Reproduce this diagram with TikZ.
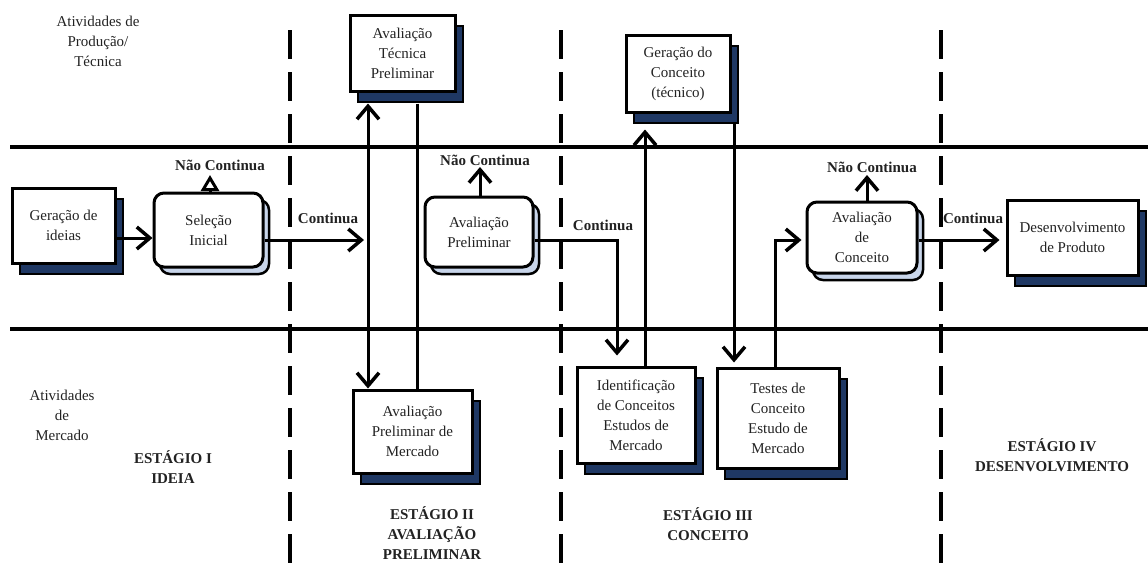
\documentclass[tikz,border=0pt]{standalone}
\usepackage{fontspec}
\setmainfont{Liberation Serif}
\usetikzlibrary{arrows.meta,shadows,calc}
\definecolor{navyshadow}{HTML}{1F3864}
\definecolor{paleshadow}{HTML}{C8D5EA}
\definecolor{ink}{HTML}{222222}
\begin{document}
\begin{tikzpicture}[x=1pt,y=-1pt,
  font=\fontsize{15}{20}\selectfont,
  every node/.style={text=ink, inner sep=0pt},
  taskbox/.style={draw=black, line width=3pt, fill=white, align=center,
    drop shadow={shadow xshift=8pt, shadow yshift=-11pt, fill=navyshadow,
      draw=black, line width=2pt, opacity=1}},
  decisionbox/.style={draw=black, line width=3pt, fill=white, align=center,
    rounded corners=10pt,
    drop shadow={shadow xshift=6pt, shadow yshift=-7pt, fill=paleshadow,
      draw=black, line width=2.5pt, opacity=1}},
  barb/.tip={Straight Barb[length=13pt,width=22pt,line width=3.5pt]},
  flow/.style={line width=3pt, -barb},
  twoway/.style={line width=3pt, barb-barb},
  stopflow/.style={line width=3pt, -{Triangle[open,length=16pt,width=18pt,line width=3pt]}},
  link/.style={line width=3pt},
  lane/.style={line width=4pt},
  stageline/.style={line width=3.5pt, dash pattern=on 29pt off 13pt},
  tag/.style={font=\fontsize{15}{20}\selectfont\bfseries, align=center},
  note/.style={align=center},
]
\useasboundingbox (0,0) rectangle (1148,563);

% swim-lane borders
\draw[lane] (10,147) -- (1148,147);
\draw[lane] (10,329) -- (1148,329);

% stage separators
\draw[stageline] (290,30) -- (290,563);
\draw[stageline] (561,30) -- (561,563);
\draw[stageline] (941,30) -- (941,563);

% lane and stage captions
\node[note] (prodlbl) at (98,41) {Atividades de\\Produção/\\Técnica};
\node[note] (mktlbl) at (62,415) {Atividades\\de\\Mercado};
\node[tag] (stage1) at (173,467) {ESTÁGIO I\\IDEIA};
\node[tag] (stage2) at (432,533) {ESTÁGIO II\\AVALIAÇÃO\\PRELIMINAR};
\node[tag] (stage3) at (708,524) {ESTÁGIO III\\CONCEITO};
\node[tag] (stage4) at (1052,455) {ESTÁGIO IV\\DESENVOLVIMENTO};

% activities and decisions
\node[taskbox, minimum width=103pt, minimum height=75pt] (gen) at (63.5,225.5) {Geração de\\ideias};
\node[decisionbox, minimum width=109pt, minimum height=74pt] (sel) at (208.5,230) {Seleção\\Inicial};
\node[taskbox, minimum width=105pt, minimum height=76pt] (tec) at (402.5,53) {Avaliação\\Técnica\\Preliminar};
\node[taskbox, minimum width=119pt, minimum height=83pt] (mer) at (412.5,431.5) {Avaliação\\Preliminar de\\Mercado};
\node[decisionbox, minimum width=108pt, minimum height=70pt] (ap) at (479,232) {Avaliação\\Preliminar};
\node[taskbox, minimum width=104pt, minimum height=77pt] (gc) at (678,73.5) {Geração do\\Conceito\\(técnico)};
\node[taskbox, minimum width=118pt, minimum height=96pt] (ic) at (636,415) {Identificação\\de Conceitos\\Estudos de\\Mercado};
\node[taskbox, minimum width=122pt, minimum height=100pt] (tc) at (778,418) {Testes de\\Conceito\\Estudo de\\Mercado};
\node[decisionbox, minimum width=110pt, minimum height=71pt] (ac) at (862,237.5) {Avaliação\\de\\Conceito};
\node[taskbox, minimum width=131pt, minimum height=75pt] (dp) at (1072.5,237.5) {Desenvolvimento\\de Produto};

% decision labels
\node[tag] (selstop) at (220,165) {Não Continua};
\node[tag] (apstop) at (485,160) {Não Continua};
\node[tag] (acstop) at (872,167) {Não Continua};
\node[tag] (selgolbl) at (328,218) {Continua};
\node[tag] (apgolbl) at (603,225) {Continua};
\node[tag] (acgolbl) at (973,218) {Continua};

% free arrow ends
\coordinate (selgo) at (364,240);
\coordinate (selno) at (210,175);
\coordinate (apno) at (480,167);
\coordinate (acno) at (867,175);

% flow
\draw[flow] (gen.east |- 0,238) -- (sel.west |- 0,238);
\draw[flow] (sel.east |- 0,240) -- (selgo);
\draw[stopflow] (sel.north -| selno) -- (selno);
\draw[twoway] ($(tec.south -| 368,0)+(0,11)$) -- (mer.north -| 368,0);
\draw[link] ($(tec.south -| 417,0)+(0,11)$) -- (mer.north -| 417,0);
\draw[flow] (ap.north -| apno) -- (apno);
\draw[flow] (ap.east |- 0,240) -| ($(ic.north -| 617,0)+(0,-10)$);
\draw[flow] (ic.north -| 645,0) -- ($(gc.south -| 645,0)+(0,16)$);
\draw[flow] ($(gc.south -| 734,0)+(0,10)$) -- ($(tc.north -| 734,0)+(0,-4)$);
\draw[flow] (tc.north -| 775,0) |- ($(ac.west |- 0,240)+(-4,0)$);
\draw[flow] (ac.north -| acno) -- (acno);
\draw[flow] (ac.east |- 0,240) -- ($(dp.west |- 0,240)+(-6,0)$);
\end{tikzpicture}
\end{document}
